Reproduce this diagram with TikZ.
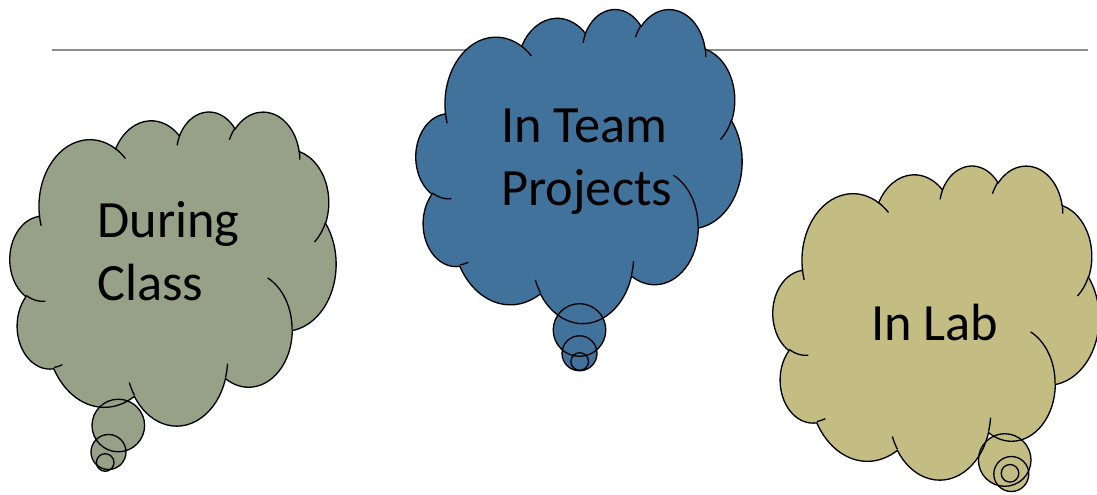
\documentclass[tikz,border=0pt]{standalone}
\usepackage{fontspec}
\setmainfont{Carlito}
\usetikzlibrary{positioning}

\definecolor{classgreen}{RGB}{150,161,136}
\definecolor{teamblue}{RGB}{65,114,155}
\definecolor{labkhaki}{RGB}{195,189,132}
\definecolor{rulegray}{RGB}{140,140,140}

% one puff of the outline; angles are the ones seen on the ellipse,
% turned into the parameter angles that arc wants
\newcommand\puff[4]{%
  \pgfextra{%
    \pgfmathsetmacro\puffa{atan2(#1*sin(#3),#2*cos(#3))}%
    \pgfmathsetmacro\puffb{atan2(#1*sin(#3+#4),#2*cos(#3+#4))}%
    \pgfmathsetmacro\puffd{\puffb-\puffa+360*(\puffb<\puffa)}}%
  arc[start angle=\puffa, delta angle=\puffd, x radius=#1, y radius=#2]}

% outline of the cloud in a 43.2 x 43.2 box
\newcommand\cloudpath{(3.900,14.370)
  \puff{6.753}{9.190}{-190.4875}{123.7805}
  \puff{5.333}{7.267}{-144.1024}{89.9452}
  \puff{4.365}{5.945}{-145.8079}{99.7230}
  \puff{4.857}{6.595}{-130.9861}{117.2417}
  \puff{5.333}{7.273}{-78.7089}{109.0269}
  \puff{6.775}{9.220}{-46.2673}{130.2690}
  \puff{5.785}{7.867}{0.6250}{114.0333}
  \puff{6.752}{9.215}{22.4516}{115.1726}
  \puff{7.720}{10.543}{66.2426}{75.7110}
  \puff{4.360}{5.918}{-274.9421}{146.7356}
  \puff{4.345}{5.945}{-246.8285}{152.5189}
  -- cycle}

% creases inside the cloud
\newcommand\cloudcreases{%
  (4.693,26.177) \puff{4.345}{5.945}{86.7420}{26.4295}
  (6.928,34.899) \puff{4.360}{5.918}{73.6105}{11.4475}
  (16.478,39.090) \puff{6.752}{9.215}{137.6242}{14.0811}
  (28.827,34.751) \puff{6.752}{9.215}{6.4533}{15.9984}
  (34.129,22.954) \puff{5.785}{7.867}{-70.2924}{70.9174}
  (41.798,15.354) \puff{5.333}{7.273}{30.3180}{27.7515}
  (38.324,5.426) \puff{4.857}{6.595}{-13.7443}{14.8589}
  (29.078,3.952) \puff{4.857}{6.595}{-149.1815}{18.1954}
  (22.141,4.720) \puff{4.365}{5.945}{-163.4943}{17.6864}
  (14.000,5.192) \puff{6.753}{9.190}{-66.7070}{12.3194}
  (4.127,15.789) \puff{6.753}{9.190}{157.6544}{11.8582}}

% #1 top left corner, #2 width, #3 height, #4 fill, #5 the little bubbles
\newcommand\thoughtcloud[5]{%
  % fills first, so that every outline stays on top
  \begin{scope}[shift={#1}, xscale=#2/43.2, yscale=#3/43.2]
    \fill[#4] \cloudpath;
  \end{scope}
  \foreach \c/\r in {#5}
    \fill[#4] \c circle[radius=\r];
  \begin{scope}[shift={#1}, xscale=#2/43.2, yscale=#3/43.2]
    \draw[cloud line] \cloudpath;
    \draw[cloud line] \cloudcreases;
  \end{scope}
  \foreach \c/\r in {#5}
    \draw[cloud line] \c circle[radius=\r];}

\begin{document}
\begin{tikzpicture}[x=0.02cm, y=-0.02cm]
  \tikzset{cloud line/.style={draw=black, line width=0.75pt},
           thought/.style={anchor=base west, align=left, inner sep=0pt,
                           font=\fontsize{29.8}{35.7}\selectfont}}

  \useasboundingbox (0,0) rectangle (1097,494);
  \clip (0,0) rectangle (1097,494);

  \draw[rulegray, line width=0.6pt] (52,50) -- (1088,50);

  \thoughtcloud{(10,111)}{326}{314}{classgreen}
    {(118.3,425.5)/26.3, (108.5,452)/17.5, (105.2,462.5)/8.8}
  \thoughtcloud{(416,8.5)}{326}{314}{teamblue}
    {(579.5,330)/26.3, (579.5,353.3)/17.5, (579.7,361.5)/8.8}
  \thoughtcloud{(773,165)}{326}{314}{labkhaki}
    {(1004.7,460)/26.3, (1011.3,474)/17.5, (1010,473.3)/8.8}

  % the base of a two line node is the last line
  \node[thought] (during) at (97,300)  {During\\Class};
  \node[thought] (team)   at (501,205) {In Team\\Projects};
  \node[thought] (lab)    at (871,340) {In Lab};
\end{tikzpicture}
\end{document}
